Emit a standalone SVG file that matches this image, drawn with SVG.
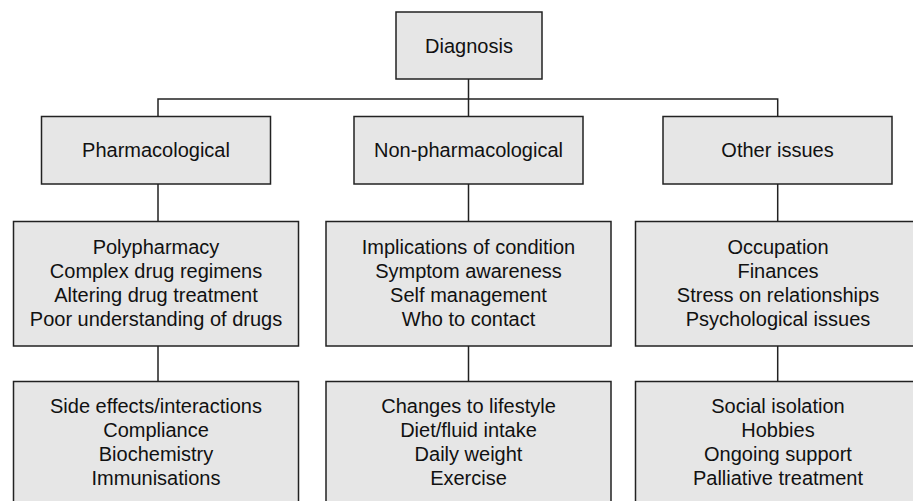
<svg xmlns="http://www.w3.org/2000/svg" width="913" height="501" viewBox="0 0 913 501">
<style>
.box{fill:#e6e6e6;stroke:#222;stroke-width:1.5}
.ln{fill:none;stroke:#222;stroke-width:1.5}
text{font-family:"Liberation Sans",Arial,sans-serif;font-size:20px;fill:#111;text-anchor:middle}
</style>
<rect width="913" height="501" fill="#fff"/>
<g id="connectors">
<path class="ln" d="M468.5 79V116M158 116V99H777.7V116"/>
<path class="ln" d="M158 184V221M468.5 184V221M777.7 184V221"/>
<path class="ln" d="M158 346V381M468.5 346V381M777.7 346V381"/>
</g>
<g id="diagnosis"><rect class="box" x="396" y="12" width="146" height="67"/><text x="469" y="53">Diagnosis</text></g>
<g id="pharmacological"><rect class="box" x="41.5" y="116.5" width="229" height="67.5"/><text x="156" y="157">Pharmacological</text></g>
<g id="nonpharmacological"><rect class="box" x="354" y="116.5" width="229" height="67.5"/><text x="468.5" y="157">Non-pharmacological</text></g>
<g id="other"><rect class="box" x="663" y="116.5" width="229" height="67.5"/><text x="777.5" y="157">Other issues</text></g>
<g id="pharm2"><rect class="box" x="13.5" y="221.5" width="285" height="124.5"/>
<text x="156" y="254">Polypharmacy</text><text x="156" y="278">Complex drug regimens</text><text x="156" y="302">Altering drug treatment</text><text x="156" y="326">Poor understanding of drugs</text></g>
<g id="nonpharm2"><rect class="box" x="326" y="221.5" width="285" height="124.5"/>
<text x="468.5" y="254">Implications of condition</text><text x="468.5" y="278">Symptom awareness</text><text x="468.5" y="302">Self management</text><text x="468.5" y="326">Who to contact</text></g>
<g id="other2"><rect class="box" x="635.5" y="221.5" width="285" height="124.5"/>
<text x="778" y="254">Occupation</text><text x="778" y="278">Finances</text><text x="778" y="302">Stress on relationships</text><text x="778" y="326">Psychological issues</text></g>
<g id="pharm3"><rect class="box" x="13.5" y="381.5" width="285" height="130"/>
<text x="156" y="413">Side effects/interactions</text><text x="156" y="437">Compliance</text><text x="156" y="461">Biochemistry</text><text x="156" y="485">Immunisations</text></g>
<g id="nonpharm3"><rect class="box" x="326" y="381.5" width="285" height="130"/>
<text x="468.5" y="413">Changes to lifestyle</text><text x="468.5" y="437">Diet/fluid intake</text><text x="468.5" y="461">Daily weight</text><text x="468.5" y="485">Exercise</text></g>
<g id="other3"><rect class="box" x="635.5" y="381.5" width="285" height="130"/>
<text x="778" y="413">Social isolation</text><text x="778" y="437">Hobbies</text><text x="778" y="461">Ongoing support</text><text x="778" y="485">Palliative treatment</text></g>
</svg>
